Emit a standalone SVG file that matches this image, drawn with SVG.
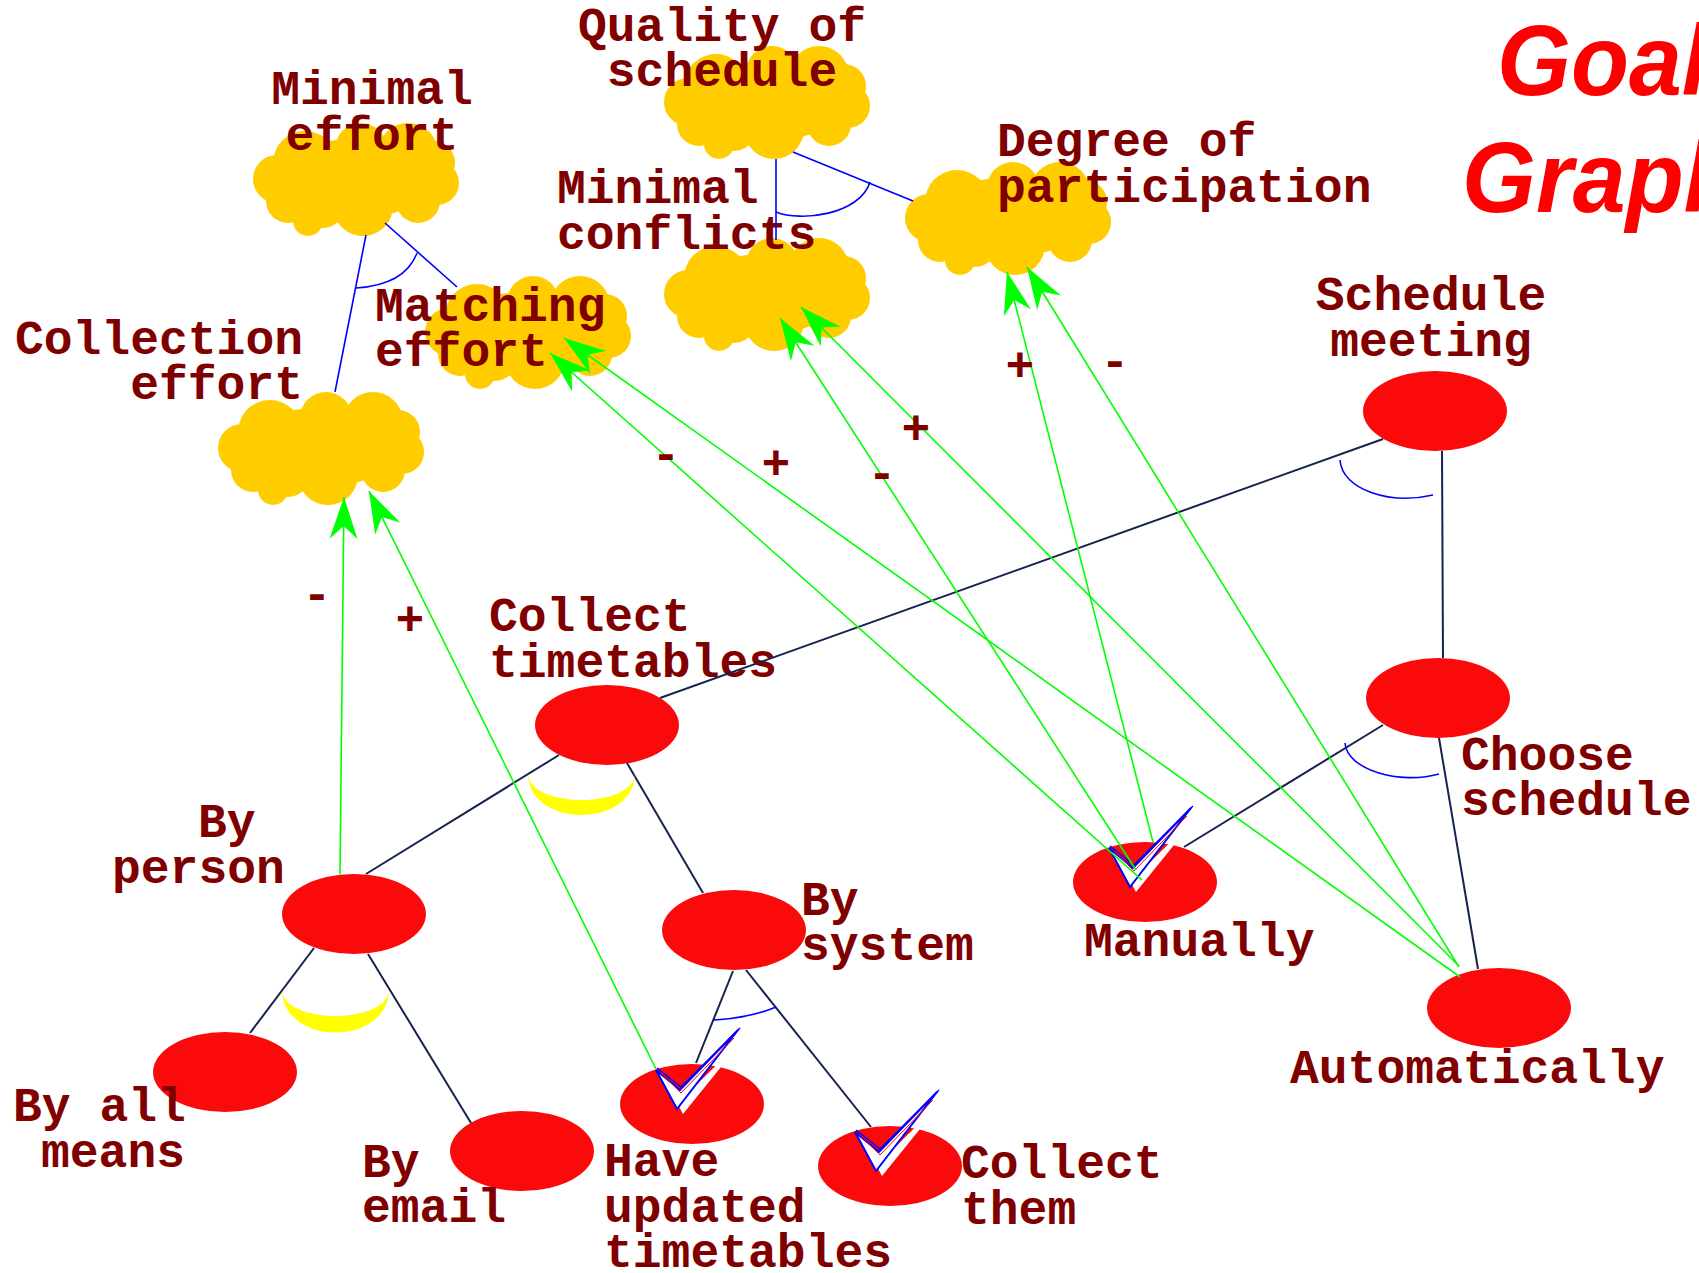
<svg xmlns="http://www.w3.org/2000/svg" width="1699" height="1273" viewBox="0 0 1699 1273">
  <style>
    .lbl { font-family: "Liberation Mono", "Courier New", monospace; font-weight: bold; font-size: 48px; fill: #800000; }
    .sign { font-family: "Liberation Mono", "Courier New", monospace; font-weight: bold; font-size: 48px; fill: #800000; text-anchor: middle; }
    .title { font-family: "Liberation Sans", Arial, sans-serif; font-weight: bold; font-style: italic; font-size: 100px; fill: #ff0000; }
    .task { fill: #fa0a0a; }
    .soft { fill: #ffcc00; }
    .dec { stroke: #16234f; stroke-width: 2; fill: none; }
    .sgl { stroke: #0000ff; stroke-width: 1.6; fill: none; }
    .orarc { stroke: #0000ff; stroke-width: 1.6; fill: none; }
    .andarc { fill: #ffff00; }
    .contrib { stroke: #00ff00; stroke-width: 1.6; fill: none; marker-end: url(#ah); }
  </style>
  <defs>
    <marker id="ah" markerUnits="userSpaceOnUse" markerWidth="50" markerHeight="32" viewBox="-45 -16 50 32" refX="0" refY="0" orient="auto" overflow="visible">
      <path d="M0,0 L-42,-14 L-29,0 L-42,14 Z" fill="#00ff00"/>
    </marker>
    <!-- softgoal cloud, box 206 x 117 -->
    <g id="cloud" class="soft">
      <ellipse cx="100" cy="58" rx="78" ry="40"/>
      <circle cx="52" cy="42" r="32"/>
      <circle cx="108" cy="28" r="26"/>
      <circle cx="155" cy="32" r="30"/>
      <circle cx="180" cy="42" r="22"/>
      <circle cx="184" cy="62" r="22"/>
      <circle cx="165" cy="80" r="22"/>
      <circle cx="110" cy="85" r="30"/>
      <circle cx="55" cy="100" r="15"/>
      <circle cx="24" cy="58" r="24"/>
      <circle cx="35" cy="80" r="22"/>
      <circle cx="70" cy="85" r="22"/>
    </g>
    <!-- satisficed mark, origin at the left tip -->
    <g id="chk">
      <polygon points="6,5 30,25 90,-34 27,44" fill="#ffffff"/>
      <polygon points="0,0 24,20 82,-40 21,39" fill="#ffffff" stroke="#0000ff" stroke-width="2" stroke-linejoin="miter"/>
      <polyline points="1,-2 25,17 84,-42" fill="none" stroke="#0000ff" stroke-width="1.5"/>
      <polyline points="5,3 25,23 78,-32" fill="none" stroke="#ff0000" stroke-width="1"/>
    </g>
  </defs>

  <rect width="1699" height="1273" fill="#ffffff"/>

  <!-- softgoals -->
  <g id="minimal-effort">
    <use href="#cloud" x="253" y="121"/>
    <text class="lbl" text-anchor="middle"><tspan x="372" y="104">Minimal</tspan><tspan x="372" y="150">effort</tspan></text>
  </g>
  <g id="quality-of-schedule">
    <use href="#cloud" x="664" y="44"/>
    <text class="lbl" text-anchor="middle"><tspan x="722" y="41">Quality of</tspan><tspan x="722" y="86">schedule</tspan></text>
  </g>
  <g id="minimal-conflicts">
    <use href="#cloud" x="664" y="236"/>
    <text class="lbl"><tspan x="557" y="203">Minimal</tspan><tspan x="557" y="249">conflicts</tspan></text>
  </g>
  <g id="degree-of-participation">
    <use href="#cloud" x="905" y="160"/>
    <text class="lbl"><tspan x="997" y="156">Degree of</tspan><tspan x="997" y="202">participation</tspan></text>
  </g>
  <g id="matching-effort">
    <use href="#cloud" x="425" y="274"/>
    <text class="lbl"><tspan x="375" y="321">Matching</tspan><tspan x="375" y="366">effort</tspan></text>
  </g>
  <g id="collection-effort">
    <use href="#cloud" x="218" y="390"/>
    <text class="lbl" text-anchor="end"><tspan x="303" y="354">Collection</tspan><tspan x="303" y="399">effort</tspan></text>
  </g>

  <!-- goals and tasks -->
  <g id="schedule-meeting">
    <ellipse class="task" cx="1435" cy="411" rx="72" ry="40"/>
    <text class="lbl" text-anchor="middle"><tspan x="1431" y="310">Schedule</tspan><tspan x="1431" y="356">meeting</tspan></text>
  </g>
  <g id="choose-schedule">
    <ellipse class="task" cx="1438" cy="698" rx="72" ry="40"/>
    <text class="lbl"><tspan x="1461" y="770">Choose</tspan><tspan x="1461" y="815">schedule</tspan></text>
  </g>
  <g id="manually">
    <ellipse class="task" cx="1145" cy="882" rx="72" ry="40"/>
    <use href="#chk" x="1109" y="848"/>
    <text class="lbl" x="1084" y="956">Manually</text>
  </g>
  <g id="automatically">
    <ellipse class="task" cx="1499" cy="1008" rx="72" ry="40"/>
    <text class="lbl" x="1290" y="1083">Automatically</text>
  </g>
  <g id="collect-timetables">
    <ellipse class="task" cx="607" cy="725" rx="72" ry="40"/>
    <text class="lbl"><tspan x="489" y="631">Collect</tspan><tspan x="489" y="677">timetables</tspan></text>
  </g>
  <g id="by-person">
    <ellipse class="task" cx="354" cy="914" rx="72" ry="40"/>
    <text class="lbl"><tspan x="198" y="837">By</tspan><tspan x="112" y="883">person</tspan></text>
  </g>
  <g id="by-system">
    <ellipse class="task" cx="734" cy="930" rx="72" ry="40"/>
    <text class="lbl"><tspan x="801" y="915">By</tspan><tspan x="801" y="960">system</tspan></text>
  </g>
  <g id="by-all-means">
    <ellipse class="task" cx="225" cy="1072" rx="72" ry="40"/>
    <text class="lbl"><tspan x="13" y="1121">By all</tspan><tspan x="41" y="1167">means</tspan></text>
  </g>
  <g id="by-email">
    <ellipse class="task" cx="522" cy="1151" rx="72" ry="40"/>
    <text class="lbl"><tspan x="362" y="1177">By</tspan><tspan x="362" y="1222">email</tspan></text>
  </g>
  <g id="have-updated-timetables">
    <ellipse class="task" cx="692" cy="1104" rx="72" ry="40"/>
    <use href="#chk" x="656" y="1070"/>
    <text class="lbl"><tspan x="604" y="1176">Have</tspan><tspan x="604" y="1222">updated</tspan><tspan x="604" y="1267">timetables</tspan></text>
  </g>
  <g id="collect-them">
    <ellipse class="task" cx="890" cy="1166" rx="72" ry="40"/>
    <use href="#chk" x="855" y="1132"/>
    <text class="lbl"><tspan x="961" y="1178">Collect</tspan><tspan x="961" y="1224">them</tspan></text>
  </g>

  <!-- links -->
  <g id="connectors">
    <!-- softgoal refinements -->
    <line class="sgl" x1="366" y1="235" x2="335" y2="392"/>
    <line class="sgl" x1="385" y1="223" x2="457" y2="287"/>
    <path class="orarc" d="M356,288 Q405,285 417,253"/>
    <line class="sgl" x1="776" y1="159" x2="776" y2="240"/>
    <line class="sgl" x1="793" y1="152" x2="913" y2="201"/>
    <path class="orarc" d="M776,212 C800,222 860,215 870,182"/>

    <!-- goal decompositions -->
    <line class="dec" x1="1383" y1="439" x2="660" y2="698"/>
    <line class="dec" x1="1442" y1="451" x2="1443" y2="658"/>
    <path class="orarc" d="M1340,460 C1342,490 1390,505 1433,495"/>
    <line class="dec" x1="1383" y1="725" x2="1184" y2="847"/>
    <line class="dec" x1="1439" y1="738" x2="1478" y2="969"/>
    <path class="orarc" d="M1345,743 C1347,770 1400,785 1439,774"/>
    <line class="dec" x1="559" y1="755" x2="366" y2="874"/>
    <line class="dec" x1="627" y1="763" x2="703" y2="893"/>
    <path class="andarc" d="M528,773 C528,829 635,829 635,773 C635,809 528,809 528,773 Z"/>
    <line class="dec" x1="314" y1="948" x2="250" y2="1033"/>
    <line class="dec" x1="368" y1="954" x2="471" y2="1123"/>
    <path class="andarc" d="M282,989 C282,1047 389,1047 389,989 C389,1025 282,1025 282,989 Z"/>
    <line class="dec" x1="733" y1="971" x2="696" y2="1063"/>
    <line class="dec" x1="746" y1="970" x2="871" y2="1127"/>
    <path class="orarc" d="M714,1020 Q750,1018 776,1007"/>

    <!-- contributions -->
    <path class="contrib" d="M340,874 L344,497"/>
    <path class="contrib" d="M656,1069 L369,491"/>
    <path class="contrib" d="M1142,880 L550,353"/>
    <path class="contrib" d="M1460,977 L564,338"/>
    <path class="contrib" d="M1136,870 L780,318"/>
    <path class="contrib" d="M1459,966 L801,307"/>
    <path class="contrib" d="M1153,842 L1007,272"/>
    <path class="contrib" d="M1459,967 L1027,267"/>

    <text class="sign" x="317" y="610">-</text>
    <text class="sign" x="410" y="635">+</text>
    <text class="sign" x="666" y="470">-</text>
    <text class="sign" x="776" y="479">+</text>
    <text class="sign" x="882" y="489">-</text>
    <text class="sign" x="916" y="444">+</text>
    <text class="sign" x="1020" y="381">+</text>
    <text class="sign" x="1115" y="377">-</text>
  </g>

  <!-- heading -->
  <text class="title" transform="translate(1497,95) scale(0.95,1)">Goal</text>
  <text class="title" transform="translate(1462,212) scale(0.95,1)">Graph</text>
</svg>
